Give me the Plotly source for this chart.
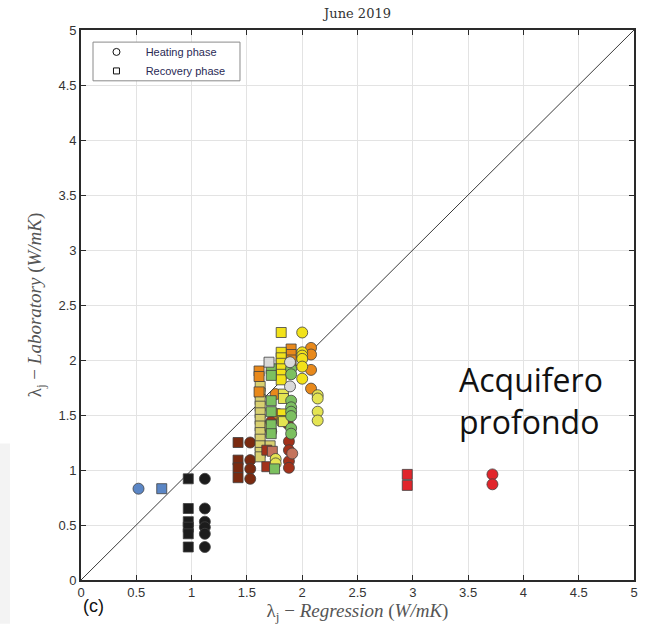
import plotly.graph_objects as go

# ---- data: thermal conductivity, regression vs laboratory (W/mK) ----
# each colour is one borehole section; heating = circles, recovery = squares
black_heat_x = [1.12, 1.12, 1.12, 1.12, 1.12, 1.12]
black_heat_y = [0.92, 0.65, 0.53, 0.48, 0.42, 0.30]
black_rec_x = [0.97, 0.97, 0.97, 0.97, 0.97, 0.97]
black_rec_y = [0.92, 0.65, 0.53, 0.48, 0.42, 0.30]

blue_heat_x = [0.52]
blue_heat_y = [0.83]
blue_rec_x = [0.73]
blue_rec_y = [0.83]

red_heat_x = [3.72, 3.72]
red_heat_y = [0.96, 0.87]
red_rec_x = [2.95, 2.95]
red_rec_y = [0.96, 0.86]

brown_heat_x = [1.53, 1.53, 1.53, 1.53]
brown_heat_y = [1.25, 1.09, 1.01, 0.92]
brown_rec_x = [1.42, 1.42, 1.42, 1.42]
brown_rec_y = [1.25, 1.09, 1.02, 0.93]

brick_heat_x = [1.88, 1.88, 1.88, 1.88, 1.72, 1.72, 1.87]
brick_heat_y = [1.26, 1.18, 1.08, 1.02, 1.44, 1.35, 1.42]
brick_rec_x = [1.68, 1.68]
brick_rec_y = [1.18, 1.03]

salmon_heat_x = [1.91]
salmon_heat_y = [1.15]
salmon_rec_x = [1.73]
salmon_rec_y = [1.17]

khaki_rec_x = [1.62, 1.62, 1.62, 1.62, 1.62, 1.62, 1.62, 1.62, 1.62, 1.62, 1.62, 1.62, 1.71, 1.71]
khaki_rec_y = [1.76, 1.70, 1.64, 1.58, 1.52, 1.46, 1.40, 1.34, 1.28, 1.22, 1.16, 1.12, 1.40, 1.22]

orange_heat_x = [2.08, 2.08, 2.08, 2.08, 1.76, 1.78]
orange_heat_y = [2.11, 2.05, 1.91, 1.74, 1.69, 1.51]
orange_rec_x = [1.90, 1.90, 1.90, 1.61, 1.61, 1.61]
orange_rec_y = [2.10, 2.05, 2.00, 1.90, 1.85, 1.71]

yellow_heat_x = [2.00, 2.00, 2.00, 2.00, 2.00, 2.00]
yellow_heat_y = [2.25, 2.07, 2.04, 2.01, 1.94, 1.83]
yellow_rec_x = [1.81, 1.81, 1.81, 1.81, 1.81, 1.81, 1.81, 1.82, 1.82]
yellow_rec_y = [2.25, 2.07, 2.02, 1.97, 1.92, 1.87, 1.82, 1.51, 1.45]

lyellow_heat_x = [2.14, 2.14, 2.14, 2.14, 1.76, 1.76]
lyellow_heat_y = [1.68, 1.65, 1.53, 1.45, 1.10, 1.06]
lyellow_rec_x = [1.83, 1.83, 1.83]
lyellow_rec_y = [1.69, 1.65, 1.44]

green_heat_x = [1.90, 1.90, 1.90, 1.90, 1.90, 1.90, 1.90, 1.90]
green_heat_y = [1.92, 1.87, 1.63, 1.57, 1.53, 1.49, 1.38, 1.33]
green_rec_x = [1.72, 1.72, 1.72, 1.72, 1.72, 1.72, 1.75]
green_rec_y = [1.92, 1.86, 1.63, 1.53, 1.41, 1.33, 1.01]

gray_heat_x = [1.89, 1.89]
gray_heat_y = [1.98, 1.76]
gray_rec_x = [1.70]
gray_rec_y = [1.98]

diag = [0, 5]
ticks = [0, 0.5, 1, 1.5, 2, 2.5, 3, 3.5, 4, 4.5, 5]
tick_text = ["0", "0.5", "1", "1.5", "2", "2.5", "3", "3.5", "4", "4.5", "5"]

groups = [
    ("#1c1c1c", black_heat_x, black_heat_y, black_rec_x, black_rec_y),
    ("#5b86c5", blue_heat_x, blue_heat_y, blue_rec_x, blue_rec_y),
    ("#e1252b", red_heat_x, red_heat_y, red_rec_x, red_rec_y),
    ("#7a2a10", brown_heat_x, brown_heat_y, brown_rec_x, brown_rec_y),
    ("#d8d070", [], [], khaki_rec_x, khaki_rec_y),
    ("#a3321b", brick_heat_x, brick_heat_y, brick_rec_x, brick_rec_y),
    ("#c4735c", salmon_heat_x, salmon_heat_y, salmon_rec_x, salmon_rec_y),
    ("#e8891b", orange_heat_x, orange_heat_y, orange_rec_x, orange_rec_y),
    ("#f2e21a", yellow_heat_x, yellow_heat_y, yellow_rec_x, yellow_rec_y),
    ("#e4e452", lyellow_heat_x, lyellow_heat_y, lyellow_rec_x, lyellow_rec_y),
    ("#7cc060", green_heat_x, green_heat_y, green_rec_x, green_rec_y),
    ("#d9d9d9", gray_heat_x, gray_heat_y, gray_rec_x, gray_rec_y),
]

fig = go.Figure()

# 1:1 reference line
fig.add_trace(go.Scatter(x=diag, y=diag, mode="lines",
                         line=dict(color="#3a3a3a", width=1), showlegend=False,
                         hoverinfo="skip"))

edge = dict(color="#404040", width=0.8)
for color, hx, hy, rx, ry in groups:
    if rx:
        fig.add_trace(go.Scatter(x=rx, y=ry, mode="markers", showlegend=False,
                                 marker=dict(symbol="square", size=10, color=color, line=edge)))
    if hx:
        fig.add_trace(go.Scatter(x=hx, y=hy, mode="markers", showlegend=False,
                                 marker=dict(symbol="circle", size=11, color=color, line=edge)))

# legend entries (symbol key only)
nb = "\u00a0" * 3
fig.add_trace(go.Scatter(x=[None], y=[None], mode="markers", name=nb + "Heating phase",
                         marker=dict(symbol="circle-open", size=7, color="#111111",
                                     line=dict(width=1))))
fig.add_trace(go.Scatter(x=[None], y=[None], mode="markers", name=nb + "Recovery phase",
                         marker=dict(symbol="square-open", size=6, color="#111111",
                                     line=dict(width=1))))

axis_common = dict(
    range=[0, 5], tickvals=ticks, ticktext=tick_text,
    showgrid=True, gridcolor="#e3e3e3", gridwidth=1,
    zeroline=False, showline=True, linecolor="#2a2a2a", linewidth=1.6,
    mirror="ticks", ticks="inside", ticklen=5, tickwidth=1.4, tickcolor="#2a2a2a",
    tickfont=dict(family="Liberation Sans, Arial, sans-serif", size=13, color="#333333"),
)

fig.update_layout(
    width=656, height=626,
    margin=dict(l=81, r=22, t=30, b=44),
    paper_bgcolor="white", plot_bgcolor="white",
    title=dict(text="June 2019", x=0.545, xanchor="center", y=0.979, yanchor="middle",
               font=dict(family="DejaVu Serif, Liberation Serif, serif", size=13, color="#333333")),
    xaxis=dict(**axis_common,
               title=dict(text="λ<sub>j</sub> − <i>Regression</i> (<i>W/mK</i>)", standoff=0,
                          font=dict(family="Liberation Serif, DejaVu Serif, serif", size=19, color="#555555"))),
    yaxis=dict(**axis_common,
               title=dict(text="λ<sub>j</sub> − <i>Laboratory</i> (<i>W/mK</i>)", standoff=12,
                          font=dict(family="Liberation Serif, DejaVu Serif, serif", size=19, color="#555555"))),
    legend=dict(x=0.028, y=0.9865, xanchor="left", yanchor="top",
                bgcolor="rgba(0,0,0,0)", borderwidth=0,
                font=dict(family="Liberation Sans, Arial, sans-serif", size=11, color="#2a2a55"),
                tracegroupgap=0, itemwidth=30),
    showlegend=True,
)

# legend frame
fig.add_shape(type="rect", xref="paper", yref="paper",
              x0=0.0217, x1=0.2875, y0=0.9076, y1=0.978,
              line=dict(color="#8a8a8a", width=1), fillcolor="white", layer="above")

# faint band along the left edge
fig.add_shape(type="rect", xref="paper", yref="paper",
              x0=-81 / 553, x1=-71 / 553, y0=-44 / 552, y1=(582 - 445) / 552,
              line=dict(width=0), fillcolor="#f3f3f3", layer="below")

fig.add_annotation(text="Acquifero<br>profondo", xref="paper", yref="paper",
                   x=0.680, y=0.326, xanchor="left", yanchor="middle", align="left",
                   showarrow=False,
                   font=dict(family="Open Sans, Noto Sans, sans-serif", size=32, color="#111111"))
fig.add_annotation(text="(c)", xref="paper", yref="paper", x=0.0, y=-0.047,
                   xanchor="left", yanchor="middle", showarrow=False,
                   font=dict(family="Liberation Sans, Arial, sans-serif", size=18, color="#111111"))

fig.write_html("out.html")
